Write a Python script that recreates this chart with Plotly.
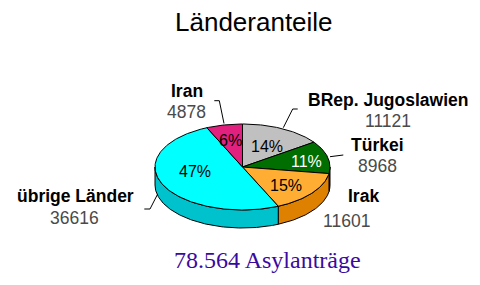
import numpy as np
import plotly.graph_objects as go

# ---- data ----
title_text = "Länderanteile"
total_label = "78.564 Asylanträge"
countries = ["BRep. Jugoslawien", "Türkei", "Irak", "übrige Länder", "Iran"]
values = [11121, 8968, 11601, 36616, 4878]
percent_labels = ["14%", "11%", "15%", "47%", "6%"]

# ---- style ----
top_colors = ["#C0C0C0", "#006E00", "#FFAD33", "#00FFFF", "#E2207E"]
side_colors = ["#8C8C8C", "#003C00", "#DE8000", "#00C2CC", "#A01058"]
pct_colors = ["black", "white", "black", "black", "black"]
CX, CY, RX, RY, DEPTH = 242.5, 167.0, 87.5, 43.0, 18.0

pct_pos = [(266.7, 146.3), (306.7, 161.0), (285.5, 185.0), (195.0, 171.7), (230.0, 140.0)]
name_pos = [(388, 99.9), (377, 144.9), (363, 195.6), (75, 195.6), (186.5, 90.6)]
val_pos = [(387.5, 120.6), (377, 165.6), (346, 220.6), (74, 217.9), (186, 111.6)]
leaders = [
    "M 297.7,109 L 292.7,109 L 283.3,127.7",
    "M 343.3,155 L 330,156.7",
    None,
    "M 144.3,209 L 150,209 L 157.7,194",
    "M 214.3,100.7 L 219.3,100.7 L 224,123.5",
]


def pt(theta_deg, dy=0.0):
    t = np.radians(theta_deg)
    return CX + RX * np.sin(t), CY - RY * np.cos(t) + dy


def arc(a, b):
    n = max(2, int(abs(b - a)) + 2)
    th = np.linspace(a, b, n)
    return pt(th)


vals = np.array(values, dtype=float)
cum = np.concatenate([[0], np.cumsum(vals)]) / vals.sum() * 360.0

fig = go.Figure()

# side faces (front half only)
for i in range(len(values)):
    a, b = max(cum[i], 90.0), min(cum[i + 1], 270.0)
    if b > a:
        xt, yt = arc(a, b)
        xb, yb = arc(b, a)
        xs = np.concatenate([xt, xb, xt[:1]])
        ys = np.concatenate([yt, yb + DEPTH, yt[:1]])
        fig.add_trace(go.Scatter(x=xs, y=ys, mode="lines", fill="toself",
                                 fillcolor=side_colors[i],
                                 line=dict(color="black", width=1),
                                 hoverinfo="skip", showlegend=False))

# top faces
for i in range(len(values)):
    xt, yt = arc(cum[i], cum[i + 1])
    xs = np.concatenate([[CX], xt, [CX]])
    ys = np.concatenate([[CY], yt, [CY]])
    fig.add_trace(go.Scatter(x=xs, y=ys, mode="lines", fill="toself",
                             fillcolor=top_colors[i],
                             line=dict(color="black", width=1),
                             hoverinfo="skip", showlegend=False))

annotations = []
annotations.append(dict(x=253.5, y=22.3, text=title_text, showarrow=False,
                        font=dict(family="Liberation Sans, Arial", size=26, color="black"),
                        xanchor="center", yanchor="middle"))
annotations.append(dict(x=267, y=260, text=total_label, showarrow=False,
                        font=dict(family="Liberation Serif, Times New Roman", size=24, color="#3A0AA0"),
                        xanchor="center", yanchor="middle"))
for i in range(len(values)):
    annotations.append(dict(x=pct_pos[i][0], y=pct_pos[i][1], text=percent_labels[i], showarrow=False,
                            font=dict(family="Liberation Sans, Arial", size=16, color=pct_colors[i]),
                            xanchor="center", yanchor="middle"))
    annotations.append(dict(x=name_pos[i][0], y=name_pos[i][1], text="<b>%s</b>" % countries[i], showarrow=False,
                            font=dict(family="Liberation Sans, Arial", size=17.5, color="black"),
                            xanchor="center", yanchor="middle"))
    annotations.append(dict(x=val_pos[i][0], y=val_pos[i][1], text=str(values[i]), showarrow=False,
                            font=dict(family="Liberation Sans, Arial", size=17.5, color="#4A4A4A"),
                            xanchor="center", yanchor="middle"))
for a in annotations:
    a["xref"] = "x"
    a["yref"] = "y"

shapes = [dict(type="path", path=p, xref="x", yref="y", line=dict(color="black", width=1))
          for p in leaders if p]

fig.update_layout(
    width=480, height=285,
    margin=dict(l=0, r=0, t=0, b=0),
    paper_bgcolor="white", plot_bgcolor="white",
    xaxis=dict(range=[0, 480], visible=False, fixedrange=True),
    yaxis=dict(range=[285, 0], visible=False, fixedrange=True),
    annotations=annotations,
    shapes=shapes,
    showlegend=False,
)

fig.write_html("out.html")
